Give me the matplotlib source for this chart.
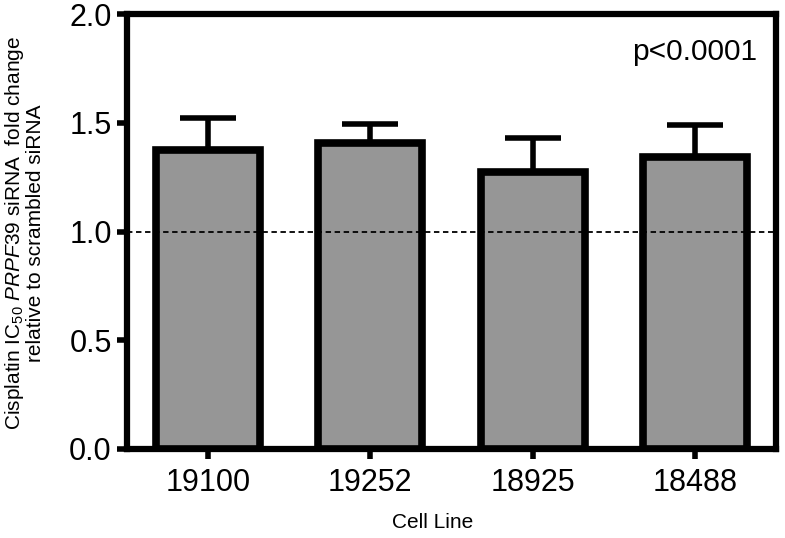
import matplotlib
matplotlib.use("Agg")
import matplotlib.pyplot as plt
import numpy as np

plt.rcParams['font.family'] = ['Liberation Sans', 'DejaVu Sans']
plt.rcParams['mathtext.fontset'] = 'custom'
plt.rcParams['mathtext.rm'] = 'Liberation Sans'
plt.rcParams['mathtext.it'] = 'Liberation Sans:italic'

cell_lines = ['19100', '19252', '18925', '18488']
fold_change = [1.377, 1.405, 1.274, 1.343]
sem = [0.145, 0.089, 0.156, 0.147]

fig = plt.figure(figsize=(7.85, 5.38), dpi=100)
ax = fig.add_axes([127 / 785, 1 - 449 / 538, 649 / 785, 435 / 538])

x = np.arange(len(cell_lines))
ax.bar(x, fold_change, width=0.64, color='#969696', edgecolor='black',
       linewidth=5.5, zorder=3)
ax.errorbar(x, fold_change, yerr=[np.zeros(len(sem)), sem], fmt='none',
            ecolor='black', elinewidth=4, capsize=20, capthick=4, zorder=2)
ax.axhline(1.0, color='black', linestyle=(0, (3, 2)), linewidth=1.3, zorder=4)

ax.set_xlim(-0.5, 3.5)
ax.set_ylim(0, 2.0)
ax.set_yticks([0, 0.5, 1.0, 1.5, 2.0])
ax.set_yticklabels(['0.0', '0.5', '1.0', '1.5', '2.0'])
ax.set_xticks(x)
ax.set_xticklabels(cell_lines)

for s in ax.spines.values():
    s.set_linewidth(4.5)
ax.tick_params(axis='both', width=4, length=7, labelsize=22, direction='out')
ax.tick_params(axis='x', pad=7)
ax.tick_params(axis='y', pad=4)

ax.set_xlabel('Cell Line', fontsize=15)
ax.xaxis.set_label_coords(0.471, -0.148)
fig.text(24 / 785, 1 - 233 / 538,
         'Cisplatin IC$_{50}$ $\\mathit{PRPF39}$ siRNA  fold change\nrelative to scrambled siRNA',
         rotation=90, ha='center', va='center', fontsize=15, linespacing=1.0)
ax.text(0.971, 0.913, 'p<0.0001', transform=ax.transAxes, ha='right', va='center',
        fontsize=21.5)

fig.savefig('out.png', dpi=100)
